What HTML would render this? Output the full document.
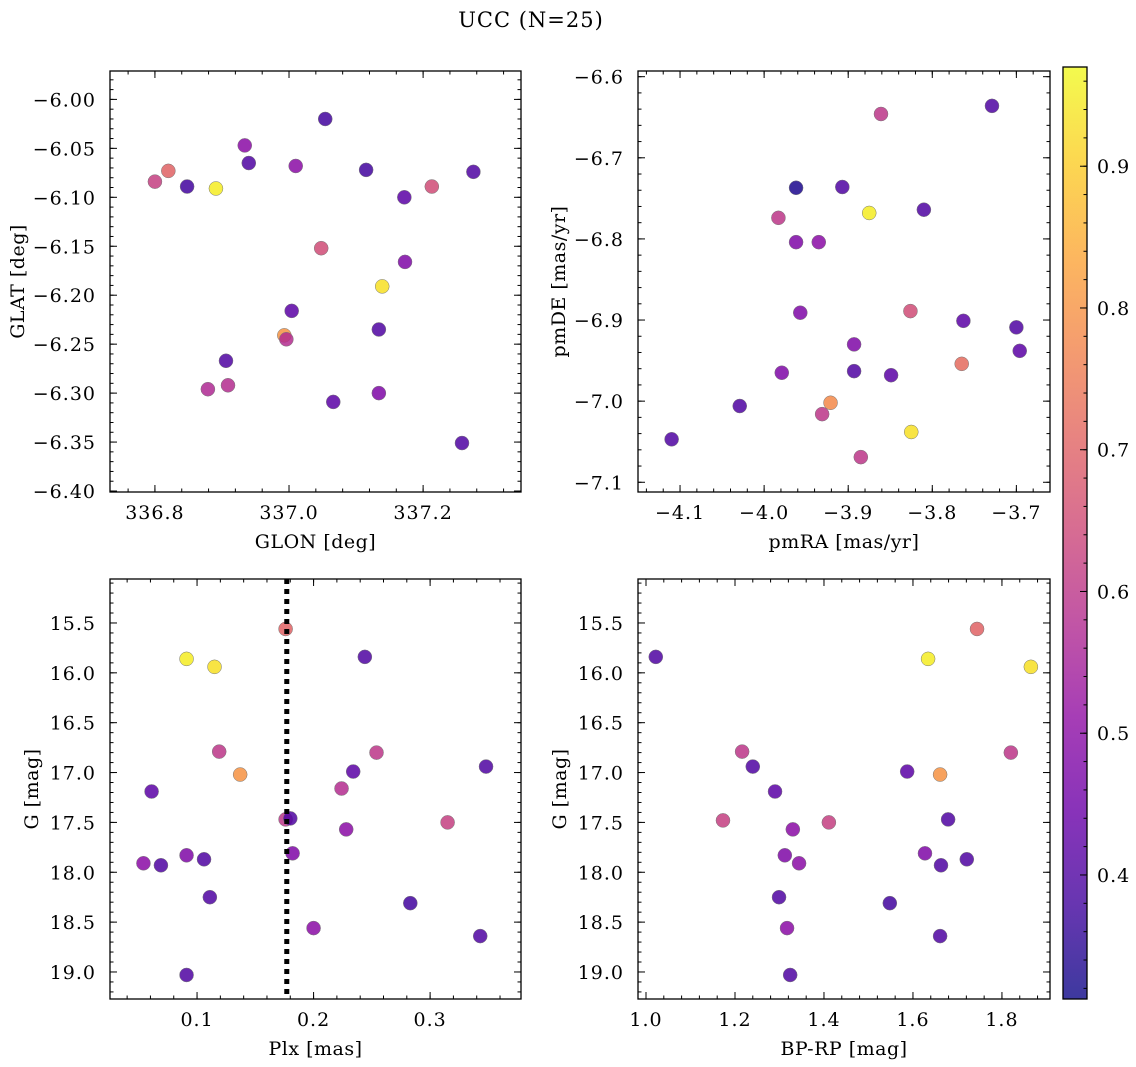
<!DOCTYPE html>
<html><head><meta charset="utf-8">
<style>
html,body{margin:0;padding:0;background:#fff;}
svg{display:block;font-family:"DejaVu Serif","Liberation Serif",serif;}
</style></head>
<body>
<svg id="fig" width="1136" height="1067" viewBox="0 0 1136 1067" xmlns="http://www.w3.org/2000/svg">
<defs>
<linearGradient id="cbgrad" x1="0" y1="1" x2="0" y2="0">
<stop offset="0" stop-color="#0d0887"/><stop offset="0.1" stop-color="#41049d"/><stop offset="0.2" stop-color="#6a00a8"/><stop offset="0.3" stop-color="#8f0da4"/><stop offset="0.4" stop-color="#b12a90"/><stop offset="0.5" stop-color="#cc4778"/><stop offset="0.6" stop-color="#e16462"/><stop offset="0.7" stop-color="#f2844b"/><stop offset="0.8" stop-color="#fca636"/><stop offset="0.9" stop-color="#fcce25"/><stop offset="1" stop-color="#f0f921"/>
</linearGradient>
</defs>
<text x="531" y="27" font-size="21" letter-spacing="1" text-anchor="middle">UCC (N=25)</text>
</svg>
<script>
// ---- data ----
const glon=[336.80,336.82,336.848,336.891,336.934,336.94,337.01,337.054,337.115,337.172,337.213,337.275,337.048,337.173,337.139,337.004,336.993,336.996,336.906,336.879,336.909,337.066,337.134,337.134,337.258];
const glat=[-6.084,-6.073,-6.089,-6.091,-6.047,-6.065,-6.068,-6.020,-6.072,-6.100,-6.089,-6.074,-6.152,-6.166,-6.191,-6.216,-6.241,-6.245,-6.267,-6.296,-6.292,-6.309,-6.300,-6.235,-6.351];
const c1=[0.62,0.70,0.38,0.95,0.50,0.40,0.50,0.38,0.38,0.42,0.65,0.40,0.65,0.48,0.93,0.42,0.80,0.58,0.40,0.57,0.58,0.42,0.48,0.40,0.40];
const pmra=[-3.729,-3.861,-3.962,-3.907,-3.875,-3.810,-3.983,-3.962,-3.935,-3.957,-3.826,-3.763,-3.700,-3.893,-3.696,-3.765,-3.979,-3.893,-3.849,-3.921,-4.029,-3.931,-3.825,-4.110,-3.885];
const pmde=[-6.636,-6.646,-6.737,-6.736,-6.768,-6.764,-6.774,-6.804,-6.804,-6.891,-6.889,-6.901,-6.909,-6.930,-6.938,-6.954,-6.965,-6.963,-6.968,-7.002,-7.006,-7.016,-7.038,-7.047,-7.069];
const c2=[0.40,0.60,0.33,0.40,0.95,0.40,0.60,0.48,0.50,0.48,0.65,0.42,0.40,0.48,0.42,0.72,0.48,0.40,0.42,0.78,0.40,0.60,0.93,0.40,0.60];
const plx=[0.091,0.115,0.176,0.244,0.119,0.137,0.176,0.180,0.182,0.061,0.234,0.254,0.224,0.228,0.315,0.348,0.054,0.069,0.091,0.106,0.111,0.283,0.200,0.343,0.091];
const gmag3=[15.86,15.94,15.56,15.84,16.79,17.02,17.47,17.46,17.81,17.19,16.99,16.80,17.16,17.57,17.50,16.94,17.91,17.93,17.83,17.87,18.25,18.31,18.56,18.64,19.03];
const c3=[0.95,0.93,0.70,0.40,0.60,0.80,0.60,0.40,0.48,0.42,0.42,0.60,0.58,0.50,0.62,0.40,0.50,0.40,0.48,0.40,0.40,0.38,0.50,0.40,0.40];
const bprp=[1.022,1.744,1.634,1.865,1.216,1.240,1.820,1.290,1.587,1.661,1.173,1.411,1.679,1.330,1.312,1.344,1.627,1.663,1.721,1.299,1.548,1.317,1.661,1.324];
const gmag4=[15.84,15.56,15.86,15.94,16.79,16.94,16.80,17.19,16.99,17.02,17.48,17.50,17.47,17.57,17.83,17.91,17.81,17.93,17.87,18.25,18.31,18.56,18.64,19.03];
const c4=[0.40,0.70,0.95,0.93,0.60,0.40,0.60,0.42,0.42,0.80,0.62,0.62,0.40,0.50,0.48,0.50,0.48,0.40,0.40,0.40,0.38,0.50,0.40,0.40];
const plxLine=0.177;
const cbTicks=[0.4,0.5,0.6,0.7,0.8,0.9];
const vmin=0.3125, vmax=0.97;

const NS="http://www.w3.org/2000/svg";
const svg=document.getElementById('fig');
function el(tag,attrs,parent){const e=document.createElementNS(NS,tag);for(const k in attrs)e.setAttribute(k,attrs[k]);(parent||svg).appendChild(e);return e;}
const stops=[[13,8,135],[65,4,157],[106,0,168],[143,13,164],[177,42,144],[204,71,120],[225,100,98],[242,132,75],[252,166,54],[252,206,37],[240,249,33]];
function plasma(v){let t=(v-vmin)/(vmax-vmin);t=Math.max(0,Math.min(1,t))*10;const i=Math.min(9,Math.floor(t)),f=t-i;const a=stops[i],b=stops[i+1];return 'rgb('+a.map((x,j)=>Math.round(x+(b[j]-x)*f)).join(',')+')';}
function fmt(v,d){let s=v.toFixed(d);return s.replace('-','\u2212');}
const TFS=19;

function panel(name,box,xlim,ylim,xmaj,xmin,xd,ymaj,ymin,yd,xlabel,ylabel,xs,ys,cs,yoff){
  const [L,T,R,B]=box;
  const sx=v=>L+(v-xlim[0])/(xlim[1]-xlim[0])*(R-L);
  const sy=v=>T+(v-ylim[0])/(ylim[1]-ylim[0])*(B-T);
  const g=el('g',{});
  
  
  const lo=Math.min(...xlim),hi=Math.max(...xlim);
  const ylo=Math.min(...ylim),yhi=Math.max(...ylim);
  function ticks(a,b,step){const r=[];for(let k=Math.ceil(a/step-1e-6);k*step<=b+1e-9;k++)r.push(k*step);return r;}
  const pts=el('g',{},g);
  
  
  for(let i=0;i<xs.length;i++){
    const c=el('circle',{cx:sx(xs[i]),cy:sy(ys[i]),r:7,fill:plasma(cs[i]),'fill-opacity':0.85,stroke:'#777','stroke-width':0.5},pts);
    
    
  }
  const tk=el('g',{stroke:'#000','stroke-width':1},g);
  
  
  ticks(lo,hi,xmin).forEach(v=>{const x=sx(v);el('line',{x1:x,y1:B,x2:x,y2:B-3.5},tk);el('line',{x1:x,y1:T,x2:x,y2:T+3.5},tk);});
  ticks(ylo,yhi,ymin).forEach(v=>{const y=sy(v);el('line',{x1:L,y1:y,x2:L+3.5,y2:y},tk);el('line',{x1:R,y1:y,x2:R-3.5,y2:y},tk);});
  ticks(lo,hi,xmaj).forEach(v=>{const x=sx(v);el('line',{x1:x,y1:B,x2:x,y2:B-7},tk);el('line',{x1:x,y1:T,x2:x,y2:T+7},tk);
    const t=el('text',{x:x,y:B+27,'font-size':TFS,'letter-spacing':1,'text-anchor':'middle'},g);t.textContent=fmt(v,xd);
    });
  ticks(ylo,yhi,ymaj).forEach(v=>{const y=sy(v);el('line',{x1:L,y1:y,x2:L+7,y2:y},tk);el('line',{x1:R,y1:y,x2:R-7,y2:y},tk);
    const t=el('text',{x:L-14,y:y+7,'font-size':TFS,'letter-spacing':1,'text-anchor':'end'},g);t.textContent=fmt(v,yd);
    });
  el('rect',{x:L,y:T,width:R-L,height:B-T,fill:'none',stroke:'#000','stroke-width':1.3},g);
  const xl=el('text',{x:(L+R)/2,y:B+56,'font-size':19,'letter-spacing':0.5,'text-anchor':'middle'},g);xl.textContent=xlabel;
  
  const yl=el('text',{x:0,y:0,'font-size':19,'letter-spacing':0.5,'text-anchor':'middle',transform:'translate('+(L-yoff)+','+((T+B)/2)+') rotate(-90)'},g);yl.textContent=ylabel;
  
  return {sx,sy,g};
}
panel('glon-glat-panel',[110,71,521,492],[336.733,337.346],[-5.971,-6.401],0.2,0.04,1,0.05,0.01,2,'GLON [deg]','GLAT [deg]',glon,glat,c1,86);
panel('pm-panel',[638,71,1050,492],[-4.150,-3.660],[-6.593,-7.112],0.1,0.02,1,0.1,0.02,1,'pmRA [mas/yr]','pmDE [mas/yr]',pmra,pmde,c2,73);
const p3=panel('plx-g-panel',[110,579,521,999],[0.0253,0.378],[15.059,19.271],0.1,0.02,1,0.5,0.1,1,'Plx [mas]','G [mag]',plx,gmag3,c3,72);
const vl=el('line',{x1:p3.sx(plxLine),y1:579,x2:p3.sx(plxLine),y2:999,stroke:'#000','stroke-width':5,'stroke-dasharray':'5,5'});


panel('cmd-panel',[638,579,1050,999],[0.982,1.908],[15.059,19.271],0.2,0.04,1,0.5,0.1,1,'BP-RP [mag]','G [mag]',bprp,gmag4,c4,72);

// colorbar
const cb=el('g',{});


const CT=67,CB=999,CL=1063,CR=1087;
el('rect',{x:CL,y:CT,width:CR-CL,height:CB-CT,fill:'url(#cbgrad)','fill-opacity':0.8},cb);
const cy=v=>CB-(v-vmin)/(vmax-vmin)*(CB-CT);
for(let k=16;k<=48;k++){const v=k*0.02;if(v<vmin||v>vmax)continue;el('line',{x1:CR,y1:cy(v),x2:CR-3.5,y2:cy(v),stroke:'#000'},cb);}
cbTicks.forEach(v=>{el('line',{x1:CR,y1:cy(v),x2:CR-7,y2:cy(v),stroke:'#000'},cb);
  const t=el('text',{x:CR+10,y:cy(v)+7,'font-size':TFS,'letter-spacing':1},cb);t.textContent=v.toFixed(1);
  });
el('rect',{x:CL,y:CT,width:CR-CL,height:CB-CT,fill:'none',stroke:'#000','stroke-width':1.3},cb);
</script>
</body></html>
